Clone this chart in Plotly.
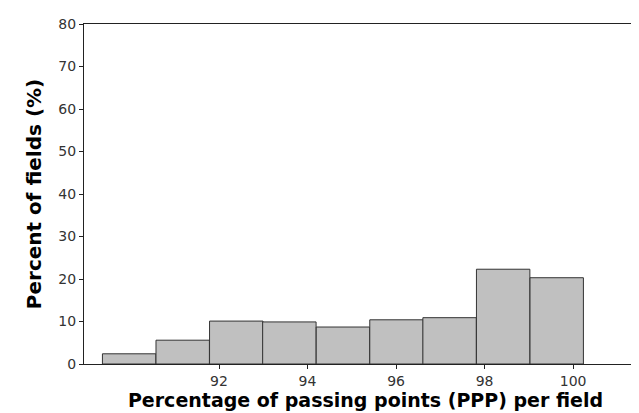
import plotly.graph_objects as go

bin_centers = [89.97, 91.18, 92.39, 93.59, 94.80, 96.01, 97.21, 98.42, 99.63]
percent_fields = [2.4, 5.6, 10.1, 9.9, 8.7, 10.4, 10.9, 22.3, 20.3]
x_ticks = [92, 94, 96, 98, 100]
y_ticks = [0, 10, 20, 30, 40, 50, 60, 70, 80]

fig = go.Figure(go.Bar(
    x=bin_centers, y=percent_fields, width=1.207,
    marker=dict(color="#c0c0c0", line=dict(color="#333333", width=1)),
))

fig.update_layout(
    width=639, height=413,
    margin=dict(l=76, r=0, t=16, b=57),
    paper_bgcolor="white", plot_bgcolor="white",
    font=dict(family="DejaVu Sans", color="#333333", size=13),
    showlegend=False,
)
fig.update_xaxes(
    automargin=False,
    range=[88.95, 101.67], tickvals=x_ticks, ticktext=[str(v) for v in x_ticks],
    showgrid=False, zeroline=False, showline=True, linecolor="#222222", linewidth=1,
    mirror=True, ticks="outside", ticklen=4, tickcolor="#222222",
    tickfont=dict(size=14, color="#333333"),
    title=dict(text="<b>Percentage of passing points (PPP) per field</b>",
               font=dict(size=19, color="#000000"), standoff=3),
)
fig.update_yaxes(
    automargin=False,
    range=[0, 80], tickvals=y_ticks, showgrid=False, zeroline=False,
    showline=True, linecolor="#222222", linewidth=1,
    ticks="outside", ticklen=4, tickcolor="#222222",
    tickfont=dict(size=14, color="#333333"),
    title=dict(text="<b>Percent of fields (%)</b>",
               font=dict(size=20, color="#000000"), standoff=11),
)

fig.write_html("out.html")
